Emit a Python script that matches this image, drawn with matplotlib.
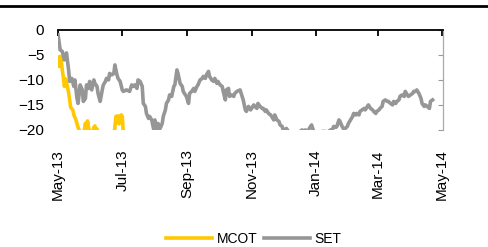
import matplotlib.pyplot as plt
import matplotlib.dates as mdates
from matplotlib.lines import Line2D
import pandas as pd

plt.rcParams['font.family'] = ['Liberation Sans', 'DejaVu Sans']

start = pd.Timestamp('2013-05-01')

# day offsets from start, values in %
mcot_days = [0, 1, 2, 3, 4, 5, 6, 7, 8, 10, 11, 12, 14, 15, 17, 19, 21, 23, 25, 26,
             27, 28, 29, 30, 32, 34, 35, 36, 37, 38, 40, 45, 50, 53, 55, 57, 58, 59,
             60, 61, 62, 64, 80]
mcot_vals = [-5.5, -7.3, -5.3, -6, -8, -9.5, -11.3, -9.8, -10.5, -12.5, -14, -15.5,
             -16, -17, -18, -19.5, -20.5, -21, -20, -18.7, -20.2, -18.2, -19.5, -20.5,
             -21, -19.5, -19.2, -20.2, -19.8, -21, -22.5, -23, -22.5, -21.5, -17.3,
             -17.2, -18.8, -18, -17, -17.3, -20.5, -22.5, -25]

set_days = [0, 2, 4, 6, 8, 10, 11, 13, 15, 16, 18, 19, 21, 23, 24, 26, 27, 29, 30, 32,
            34, 35, 37, 38, 40, 42, 43, 45, 46, 48, 49, 51, 53, 54, 56, 57, 59, 61, 62,
            65, 68, 70, 72, 73, 75, 76, 78, 80, 81, 83, 84, 86, 87, 89, 91, 92, 94, 95,
            97, 99, 100, 102, 103, 105, 106, 108, 110, 111, 113, 114, 116, 118, 119,
            121, 122, 124, 125, 127, 129, 130, 132, 133, 135, 137, 138, 140, 141, 143,
            144, 146, 148, 149, 151, 152, 154, 156, 157, 159, 160, 162, 163, 165, 167,
            168, 170, 173, 175, 176, 178, 179, 181, 183, 184, 186, 187, 189, 190, 192,
            194, 195, 197, 198, 200, 202, 203, 205, 206, 208, 210, 211, 213, 214, 216,
            217, 219, 221, 224, 227, 230, 232, 233, 235, 236, 238, 240, 241, 243, 244,
            246, 249, 251, 252, 254, 255, 257, 259, 260, 262, 264, 265, 267, 268, 270,
            272, 273, 275, 276, 278, 280, 281, 283, 284, 286, 287, 289, 291, 292, 294,
            295, 297, 299, 300, 302, 303, 305, 306, 308, 309, 311, 313, 314, 316, 318,
            319, 321, 322, 324, 325, 327, 329, 330, 332, 333, 335, 337, 338, 340, 341,
            343, 345, 346, 348, 349, 351, 353, 354, 356]
set_vals = [-1, -4, -4.3, -6, -4.6, -8, -10.3, -9.7, -11.3, -10, -13.7, -14.7, -11,
            -12, -14.3, -13.7, -11, -11.7, -10.3, -12, -10, -10.7, -11.3, -12.7, -14.3,
            -12, -11, -10.3, -9.7, -10, -8.7, -9, -8.7, -7, -9, -9.7, -10.3, -12, -12.3,
            -12, -12.3, -11, -11.3, -11, -11.7, -10, -10.3, -11.3, -14.7, -15.3, -16.7,
            -17.7, -17.3, -18, -20, -18, -21, -18.7, -19.7, -18.7, -17.3, -16, -14.7,
            -14, -13, -13.3, -11.3, -11, -8, -8.7, -10.7, -11.3, -12.3, -13, -13.3,
            -14.7, -12.7, -12.3, -11.7, -12.3, -11.3, -11, -10, -9.7, -9.3, -9.7, -9,
            -8.3, -9.3, -10, -10.3, -9.7, -10.7, -10.3, -11, -11.3, -12.3, -14, -12,
            -11.7, -13.3, -13, -13.3, -12.7, -12.3, -12, -13.3, -14, -16, -16.3, -15.3,
            -16, -15.7, -15, -15.3, -15.7, -14.7, -15.3, -15.7, -15.7, -16.3, -16,
            -16.7, -17, -17.3, -18, -17, -18, -18.3, -19, -19.3, -20, -20, -19.7, -20.3,
            -21, -21.3, -21, -20.3, -20, -20.3, -20, -20.3, -20, -19.3, -19, -20.3, -21,
            -21.3, -20.7, -20.3, -20.3, -20.3, -20.7, -20.3, -20, -20.3, -19.3, -19.5,
            -19.3, -18, -18.3, -19.3, -20, -19.7, -19.3, -18.7, -18, -17.3, -16.7, -17,
            -16.7, -17, -16.3, -16, -15.7, -16, -15.3, -15, -15.7, -16, -16.3, -16.7,
            -16.3, -16, -15.7, -15.3, -14.3, -14, -14.3, -14.3, -14.7, -15, -14.3, -14.7,
            -14.3, -14, -13.3, -13, -13.3, -12.3, -13, -13.3, -13, -12.7, -12.3, -12.3,
            -12, -12.7, -13.7, -14.7, -15.3, -15, -15.3, -15.7, -14.3, -14]

mcot_dates = start + pd.to_timedelta(mcot_days, unit='D')
set_dates = start + pd.to_timedelta(set_days, unit='D')

fig = plt.figure(figsize=(4.88, 2.47), dpi=100)
ax = fig.add_axes([0.119, 0.474, 0.789, 0.405])

ax.plot(mcot_dates, mcot_vals, color='#FFC800', lw=2.6, label='MCOT')
ax.plot(set_dates, set_vals, color='#969696', lw=2.6, label='SET')

ax.set_xlim(start, pd.Timestamp('2014-05-02'))
ax.set_ylim(-20, 0)
ax.set_yticks([0, -5, -10, -15, -20])

ax.xaxis.set_major_locator(mdates.MonthLocator(bymonth=[1, 3, 5, 7, 9, 11]))
ax.xaxis.set_major_formatter(mdates.DateFormatter('%b-%y'))
ax.tick_params(axis='x', direction='in', top=True, bottom=False, labeltop=False,
               labelbottom=True, length=4.3, width=1.3, color='black', pad=14,
               labelsize=11, labelrotation=90)
for lbl in ax.get_xticklabels():
    lbl.set_va('top')
ax.tick_params(axis='y', direction='in', left=False, right=True, length=3.6,
               width=0.8, color='#999999', labelcolor='black', pad=10, labelsize=11)

ax.spines['left'].set_visible(False)
ax.spines['bottom'].set_visible(False)
ax.spines['top'].set_linewidth(1.3)
ax.spines['right'].set_color('#aaaaaa')
ax.spines['right'].set_linewidth(0.9)

fig.add_artist(Line2D([0, 1], [1 - 6.5 / 247, 1 - 6.5 / 247], transform=fig.transFigure,
                      color='black', lw=2.0))

fig.legend(loc='center', bbox_to_anchor=(0.52, 0.033), ncol=2, frameon=False,
           fontsize=10, handlelength=3.3, handletextpad=0.35, columnspacing=0.5)

fig.savefig('out.png', dpi=100)
